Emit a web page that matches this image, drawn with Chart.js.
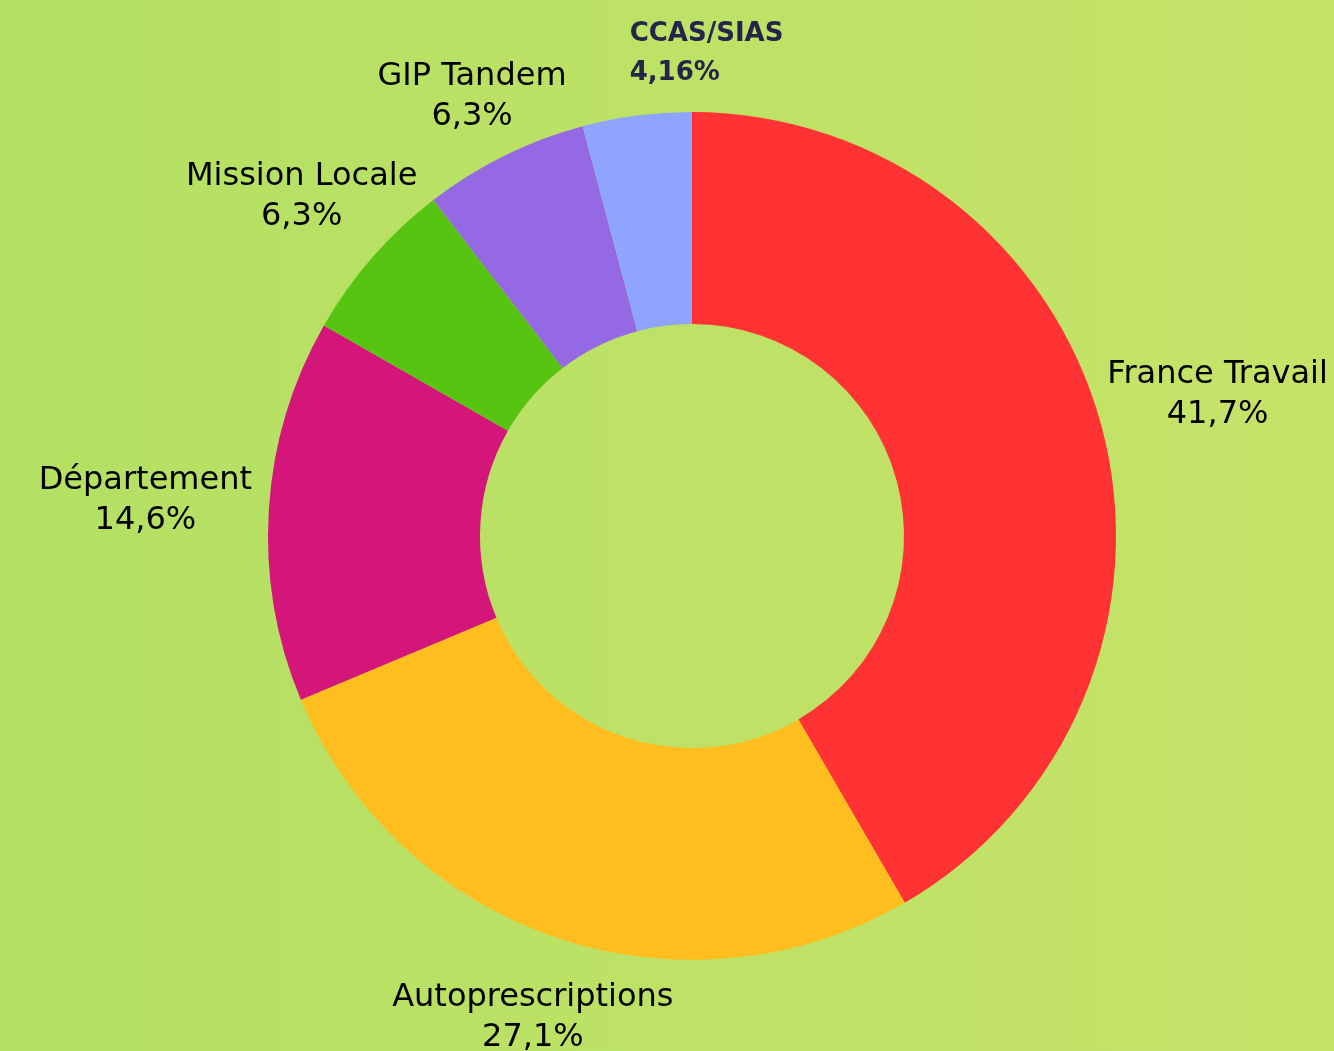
<!DOCTYPE html>
<html>
<head>
<meta charset="utf-8">
<script src="https://cdn.jsdelivr.net/npm/chart.js@4"></script>
<style>
  html, body { margin: 0; padding: 0; background: #bde266; }
  #wrap { width: 1334px; height: 1051px; position: relative; }
</style>
</head>
<body>
<div id="wrap"><canvas id="c" width="1334" height="1051"></canvas></div>
<script>
// ---- data ----
const categories = ['France Travail', 'Autoprescriptions', 'Département', 'Mission Locale', 'GIP Tandem', 'CCAS/SIAS'];
const values = [41.7, 27.1, 14.6, 6.3, 6.3, 4.16];
const valueLabels = ['41,7%', '27,1%', '14,6%', '6,3%', '6,3%', '4,16%'];

// ---- styles ----
const sliceColors = ['#ff3333', '#ffbe1f', '#d4157a', '#58c412', '#9569e4', '#8fa4ff'];
const boldLabel = [false, false, false, false, false, true];
const labelNudge = [[0, -18], [24, 32], [-7, -6], [24, -28], [14, -14], [81, -12]];

const bgPlugin = {
  id: 'bg',
  beforeDraw(chart) {
    const ctx = chart.ctx;
    const g = ctx.createLinearGradient(0, 0, chart.width, 0);
    g.addColorStop(0, '#b3e063');
    g.addColorStop(1, '#c6e368');
    ctx.save();
    ctx.fillStyle = g;
    ctx.fillRect(0, 0, chart.width, chart.height);
    ctx.restore();
  }
};

const labelPlugin = {
  id: 'outLabels',
  afterDatasetsDraw(chart) {
    const ctx = chart.ctx;
    const meta = chart.getDatasetMeta(0);
    const gap = 10;
    const lineH = 40;
    ctx.save();
    ctx.textAlign = 'center';
    ctx.textBaseline = 'middle';
    meta.data.forEach((arc, i) => {
      const p = arc.getProps(['x', 'y', 'startAngle', 'endAngle', 'outerRadius'], true);
      const mid = (p.startAngle + p.endAngle) / 2;
      const cx = Math.cos(mid), cy = Math.sin(mid);
      const bold = boldLabel[i];
      ctx.font = bold ? 'bold 26px "DejaVu Sans"' : '32px "DejaVu Sans"';
      const lines = [categories[i], valueLabels[i]];
      const w = Math.max(...lines.map(t => ctx.measureText(t).width));
      const halfW = w / 2, halfH = lineH;
      const ax = p.x + cx * (p.outerRadius + gap);
      const ay = p.y + cy * (p.outerRadius + gap);
      const tx = ax + cx * halfW + labelNudge[i][0];
      const ty = ay + cy * halfH + labelNudge[i][1];
      ctx.fillStyle = bold ? '#25244a' : '#000000';
      if (bold) {
        ctx.textAlign = 'left';
        lines.forEach((t, k) => ctx.fillText(t, tx - halfW, ty + (k - 0.5) * 39));
        ctx.textAlign = 'center';
      } else {
        lines.forEach((t, k) => ctx.fillText(t, tx, ty + (k - 0.5) * lineH));
      }
    });
    ctx.restore();
  }
};

new Chart(document.getElementById('c'), {
  type: 'doughnut',
  data: {
    labels: categories,
    datasets: [{
      data: values,
      backgroundColor: sliceColors,
      borderWidth: 0
    }]
  },
  options: {
    responsive: false,
    animation: false,
    cutout: '50%',
    layout: { padding: { left: 268, right: 218, top: 112, bottom: 91 } },
    plugins: {
      legend: { display: false },
      tooltip: { enabled: false }
    }
  },
  plugins: [bgPlugin, labelPlugin]
});
</script>
</body>
</html>
